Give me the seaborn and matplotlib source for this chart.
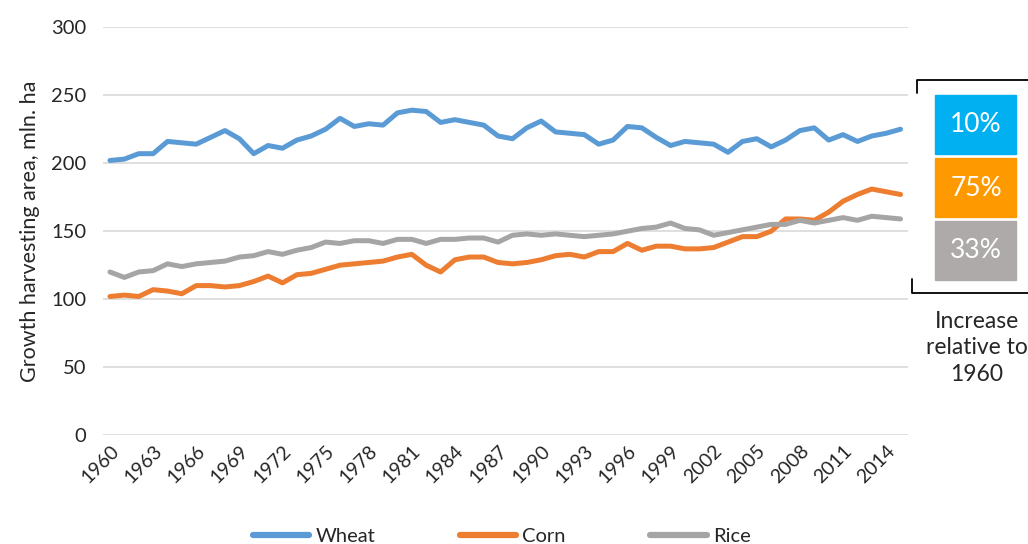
import numpy as np
import pandas as pd
import seaborn as sns
import matplotlib.pyplot as plt
from matplotlib.patches import Rectangle
from matplotlib.lines import Line2D

years = list(range(1960, 2016))
wheat = [202, 203, 207, 207, 216, 215, 214, 219, 224, 218,
         207, 213, 211, 217, 220, 225, 233, 227, 229, 228,
         237, 239, 238, 230, 232, 230, 228, 220, 218, 226,
         231, 223, 222, 221, 214, 217, 227, 226, 219, 213,
         216, 215, 214, 208, 216, 218, 212, 217, 224, 226,
         217, 221, 216, 220, 222, 225]
corn = [102, 103, 102, 107, 106, 104, 110, 110, 109, 110,
        113, 117, 112, 118, 119, 122, 125, 126, 127, 128,
        131, 133, 125, 120, 129, 131, 131, 127, 126, 127,
        129, 132, 133, 131, 135, 135, 141, 136, 139, 139,
        137, 137, 138, 142, 146, 146, 150, 159, 159, 158,
        164, 172, 177, 181, 179, 177]
rice = [120, 116, 120, 121, 126, 124, 126, 127, 128, 131,
        132, 135, 133, 136, 138, 142, 141, 143, 143, 141,
        144, 144, 141, 144, 144, 145, 145, 142, 147, 148,
        147, 148, 147, 146, 147, 148, 150, 152, 153, 156,
        152, 151, 147, 149, 151, 153, 155, 155, 158, 156,
        158, 160, 158, 161, 160, 159]

crops = ["Wheat", "Corn", "Rice"]
colors = ["#5B9BD5", "#ED7D31", "#A5A5A5"]
increase = ["10%", "75%", "33%"]
box_colors = ["#00B0F0", "#FF9900", "#AEAAAA"]

df = pd.DataFrame({
    "year": years * 3,
    "area": wheat + corn + rice,
    "crop": ["Wheat"] * len(years) + ["Corn"] * len(years) + ["Rice"] * len(years),
})

sns.set_theme(style="white")
plt.rcParams["font.family"] = ["Lato", "DejaVu Sans"]

fig = plt.figure(figsize=(10.28, 5.44), dpi=100)
ax = fig.add_axes([0.100, 0.200, 0.783, 0.750])

sns.lineplot(data=df, x="year", y="area", hue="crop", hue_order=crops,
             palette=colors, linewidth=3.6, ax=ax, legend=False)

ax.set_xlim(1959.5, 2015.5)
ax.set_ylim(0, 300)
ax.set_yticks(range(0, 301, 50))
ax.set_xticks(years[::3])
ax.set_xticklabels([str(y) for y in years[::3]], rotation=45, ha="right",
                   rotation_mode="anchor", fontsize=14)
ax.tick_params(axis="y", labelsize=14.5, length=0, pad=12)
ax.tick_params(axis="x", length=0, pad=5)
ax.grid(axis="y", color="#D9D9D9", linewidth=1.2)
ax.set_axisbelow(True)
for s in ax.spines.values():
    s.set_visible(False)
ax.set_xlabel("")
ax.set_ylabel("Growth harvesting area, mln. ha", fontsize=15.5, labelpad=8)

handles = [Line2D([0], [0], color=c, lw=4.5, solid_capstyle="round") for c in colors]
fig.legend(handles, crops, loc="lower center", bbox_to_anchor=(0.488, -0.035),
           ncol=3, frameon=False, fontsize=14.5, handlelength=2.8, columnspacing=4.2,
           handletextpad=0.3)

# increase boxes on the right
W, H = 1028, 544
def fx(px):
    return px / W
def fy(py):
    return 1 - py / H

box_tops = [95, 158, 221]
for top, col, txt in zip(box_tops, box_colors, increase):
    fig.patches.append(Rectangle((fx(935), fy(top + 59)), fx(81), 59 / H,
                                 transform=fig.transFigure, color=col))
    fig.text(fx(976), fy(top + 30), txt, color="white", fontsize=19,
             ha="center", va="center")

# bracket
fig.lines.append(Line2D([fx(917), fx(917), fx(1028)], [fy(93), fy(80), fy(80)],
                        transform=fig.transFigure, color="black", lw=1.3))
fig.lines.append(Line2D([fx(912), fx(912), fx(1028)], [fy(279), fy(293), fy(293)],
                        transform=fig.transFigure, color="black", lw=1.3))

fig.text(fx(977), fy(348), "Increase\nrelative to\n1960", fontsize=16.5,
         ha="center", va="center", linespacing=1.3)

fig.savefig("out.png", dpi=100)
